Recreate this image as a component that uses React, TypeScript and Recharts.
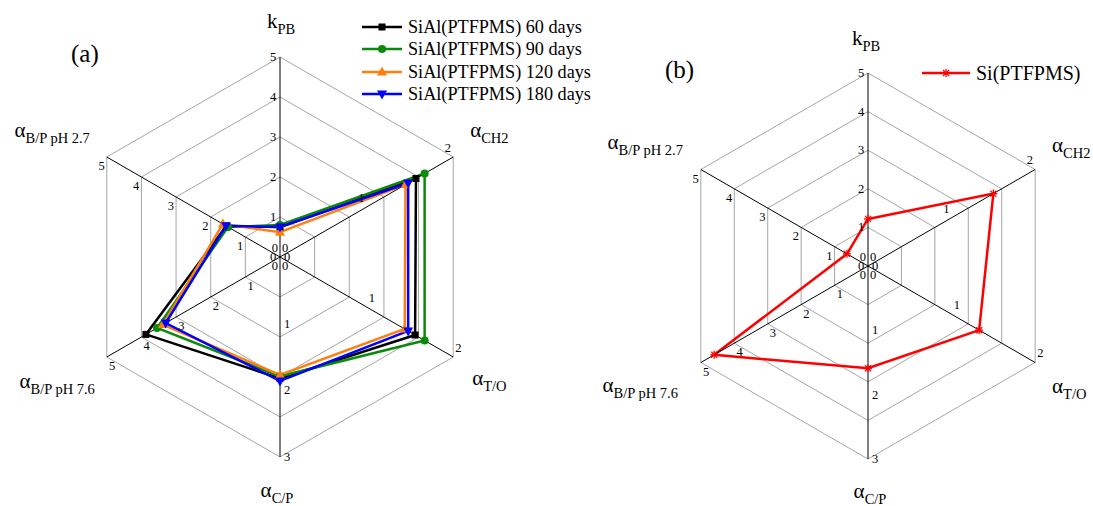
import React from 'react';
import { RadarChart, Radar, PolarGrid, PolarAngleAxis, PolarRadiusAxis, Legend } from 'recharts';

// ---- data ----
const axisSymbols = ['k', 'α', 'α', 'α', 'α', 'α'];
const axisSubscripts = ['PB', 'CH2', 'T/O', 'C/P', 'B/P pH 7.6', 'B/P pH 2.7'];
const axisMax = [5, 2, 2, 3, 5, 5];
const axisTickValues = [
  [0, 1, 2, 3, 4, 5],
  [0, 1, 2],
  [0, 1, 2],
  [0, 1, 2, 3],
  [0, 1, 2, 3, 4, 5],
  [0, 1, 2, 3, 4, 5],
];

const sial60 = [0.75, 1.57, 1.56, 1.82, 3.87, 1.55];
const sial90 = [0.8, 1.67, 1.67, 1.79, 3.55, 1.5];
const sial120 = [0.62, 1.45, 1.44, 1.77, 3.38, 1.65];
const sial180 = [0.75, 1.48, 1.48, 1.86, 3.3, 1.56];
const siPtfpms = [1.22, 1.5, 1.33, 1.59, 4.6, 0.63];

const seriesKeysA = ['s60', 's90', 's120', 's180'];
const seriesNamesA = ['SiAl(PTFPMS) 60 days', 'SiAl(PTFPMS) 90 days', 'SiAl(PTFPMS) 120 days', 'SiAl(PTFPMS) 180 days'];
const seriesNameB = 'Si(PTFPMS)';

// ---- tables built for the library (values normalised to each axis' own maximum) ----
const dataA = axisSubscripts.map((sub, i) => ({
  axis: sub,
  s60: sial60[i] / axisMax[i],
  s90: sial90[i] / axisMax[i],
  s120: sial120[i] / axisMax[i],
  s180: sial180[i] / axisMax[i],
}));
const dataB = axisSubscripts.map((sub, i) => ({
  axis: sub,
  si: siPtfpms[i] / axisMax[i],
}));

// ---- styles ----
const FONT = "'Liberation Serif', 'Times New Roman', Times, 'DejaVu Serif', serif";
const styleMap: Record<string, { color: string; marker: string }> = {
  s60: { color: '#000000', marker: 'square' },
  s90: { color: '#0a8a0a', marker: 'circle' },
  s120: { color: '#ff7f0e', marker: 'triUp' },
  s180: { color: '#0000ff', marker: 'triDown' },
  si: { color: '#ff0000', marker: 'star' },
};
const legendOrder = ['s60', 's90', 's120', 's180', 'si'];

function drawMarker(type: string, color: string, cx: number, cy: number, key?: string) {
  switch (type) {
    case 'square':
      return <rect key={key} x={cx - 3.5} y={cy - 3.5} width={7} height={7} fill={color} />;
    case 'circle':
      return <circle key={key} cx={cx} cy={cy} r={4} fill={color} />;
    case 'triUp':
      return <polygon key={key} points={`${cx},${cy - 5.5} ${cx - 5},${cy + 3.5} ${cx + 5},${cy + 3.5}`} fill={color} />;
    case 'triDown':
      return <polygon key={key} points={`${cx},${cy + 5.5} ${cx - 5},${cy - 3.5} ${cx + 5},${cy - 3.5}`} fill={color} />;
    case 'star':
    default:
      return (
        <g key={key} stroke={color} strokeWidth={1.3}>
          <line x1={cx - 4} y1={cy} x2={cx + 4} y2={cy} />
          <line x1={cx} y1={cy - 4} x2={cx} y2={cy + 4} />
          <line x1={cx - 3} y1={cy - 3} x2={cx + 3} y2={cy + 3} />
          <line x1={cx - 3} y1={cy + 3} x2={cx + 3} y2={cy - 3} />
        </g>
      );
  }
}

const dotRenderer = (key: string) => (props: any) => {
  const st = styleMap[key];
  return drawMarker(st.marker, st.color, props.cx, props.cy, `${key}-dot-${props.index}`);
};

const axisAngle = (i: number) => 90 - i * 60;

const radiusTick = (axisIndex: number) => (props: any) => {
  const { x, y, payload } = props;
  const rad = (axisAngle(axisIndex) * Math.PI) / 180;
  const k = 7 + 4 * Math.abs(Math.cos(rad));
  const ox = -k * Math.sin(rad);
  const oy = -k * Math.cos(rad);
  return (
    <text
      x={x + ox}
      y={y + oy}
      textAnchor="middle"
      dominantBaseline="central"
      fontSize={12.5}
      style={{ fontFamily: FONT }}
      fill="#000"
    >
      {Math.round(payload.value * axisMax[axisIndex])}
    </text>
  );
};

type Off = { dx: number; dy: number; anchor: 'start' | 'middle' | 'end' };

const angleTick = (offsets: Off[]) => (props: any) => {
  const { x, y, payload } = props;
  const i = axisSubscripts.indexOf(payload.value);
  const o = offsets[i];
  return (
    <text x={x + o.dx} y={y + o.dy} textAnchor={o.anchor} style={{ fontFamily: FONT }} fill="#000">
      <tspan fontSize={21}>{axisSymbols[i]}</tspan>
      <tspan fontSize={14.5} dy={6}>{axisSubscripts[i]}</tspan>
    </text>
  );
};

const offsetsA: Off[] = [
  { dx: 1, dy: -21, anchor: 'middle' },
  { dx: 10, dy: -16, anchor: 'start' },
  { dx: 12, dy: 24, anchor: 'start' },
  { dx: -3, dy: 32, anchor: 'middle' },
  { dx: -5, dy: 27, anchor: 'end' },
  { dx: -10, dy: -16, anchor: 'end' },
];
const offsetsB: Off[] = [
  { dx: -2, dy: -20, anchor: 'middle' },
  { dx: 10, dy: -14, anchor: 'start' },
  { dx: 10, dy: 26, anchor: 'start' },
  { dx: 2, dy: 31, anchor: 'middle' },
  { dx: -16, dy: 25, anchor: 'end' },
  { dx: -11, dy: -17, anchor: 'end' },
];

const legendContent = (fontSize: number, lineLen: number, rowH: number) => (props: any) => {
  const payload = [...(props.payload || [])].sort(
    (a: any, b: any) => legendOrder.indexOf(a.dataKey) - legendOrder.indexOf(b.dataKey),
  );
  return (
    <div>
      {payload.map((entry: any) => {
        const st = styleMap[entry.dataKey];
        return (
          <div key={entry.dataKey} style={{ display: 'flex', alignItems: 'center', height: rowH }}>
            <svg width={lineLen} height={12} style={{ display: 'block' }}>
              <line x1={0} y1={6} x2={lineLen} y2={6} stroke={st.color} strokeWidth={2.5} />
              {drawMarker(st.marker, st.color, lineLen / 2, 6)}
            </svg>
            <span style={{ fontFamily: FONT, fontSize, marginLeft: 6, lineHeight: 1, whiteSpace: 'nowrap', color: '#000' }}>
              {entry.value}
            </span>
          </div>
        );
      })}
    </div>
  );
};

function renderRadiusAxes() {
  return axisSubscripts.map((_, i) => (
    <PolarRadiusAxis
      key={`ra-${i}`}
      radiusAxisId={i}
      angle={axisAngle(i)}
      type="number"
      domain={[0, 1]}
      allowDataOverflow
      ticks={axisTickValues[i].map((v) => v / axisMax[i]) as any}
      axisLine={{ stroke: '#000', strokeWidth: 1 }}
      tickLine={false}
      tick={radiusTick(i)}
    />
  ));
}

export default function App() {
  return (
    <div style={{ position: 'absolute', left: 0, top: 0, width: 1093, height: 506, background: '#fff', fontFamily: FONT }}>
      <div style={{ position: 'absolute', left: 71, top: 40, fontFamily: FONT, fontSize: 25, lineHeight: '28px' }}>(a)</div>
      <div style={{ position: 'absolute', left: 665, top: 56, fontFamily: FONT, fontSize: 25, lineHeight: '28px' }}>(b)</div>

      <div style={{ position: 'absolute', left: 0, top: 0 }}>
        <RadarChart width={560} height={506} data={dataA} cx={280} cy={257} outerRadius={200} margin={{ top: 0, right: 0, bottom: 0, left: 0 }}>
          <PolarGrid gridType="polygon" radialLines={false} stroke="#a6a6a6" strokeWidth={1} />
          <PolarAngleAxis dataKey="axis" axisLine={false} tickLine={false} tick={angleTick(offsetsA)} />
          {renderRadiusAxes()}
          {seriesKeysA.map((key, i) => (
            <Radar
              key={key}
              dataKey={key}
              name={seriesNamesA[i]}
              stroke={styleMap[key].color}
              strokeWidth={2.5}
              fill="none"
              fillOpacity={0}
              dot={dotRenderer(key)}
              isAnimationActive={false}
            />
          ))}
          <Legend
            layout="vertical"
            align="center"
            verticalAlign="middle"
            content={legendContent(18.2, 40, 22.3)}
            wrapperStyle={{ position: 'absolute', left: 362, top: 16, width: 240 }}
          />
        </RadarChart>
      </div>

      <div style={{ position: 'absolute', left: 560, top: 0 }}>
        <RadarChart width={533} height={506} data={dataB} cx={308} cy={266} outerRadius={193} margin={{ top: 0, right: 0, bottom: 0, left: 0 }}>
          <PolarGrid gridType="polygon" radialLines={false} stroke="#a6a6a6" strokeWidth={1} />
          <PolarAngleAxis dataKey="axis" axisLine={false} tickLine={false} tick={angleTick(offsetsB)} />
          {renderRadiusAxes()}
          <Radar dataKey="si" name={seriesNameB} stroke={styleMap.si.color} strokeWidth={2.5} fill="none" fillOpacity={0} dot={dotRenderer('si')} isAnimationActive={false} />
          <Legend
            layout="vertical"
            align="center"
            verticalAlign="middle"
            content={legendContent(20, 48, 24)}
            wrapperStyle={{ position: 'absolute', left: 362, top: 61, width: 170 }}
          />
        </RadarChart>
      </div>
    </div>
  );
}
